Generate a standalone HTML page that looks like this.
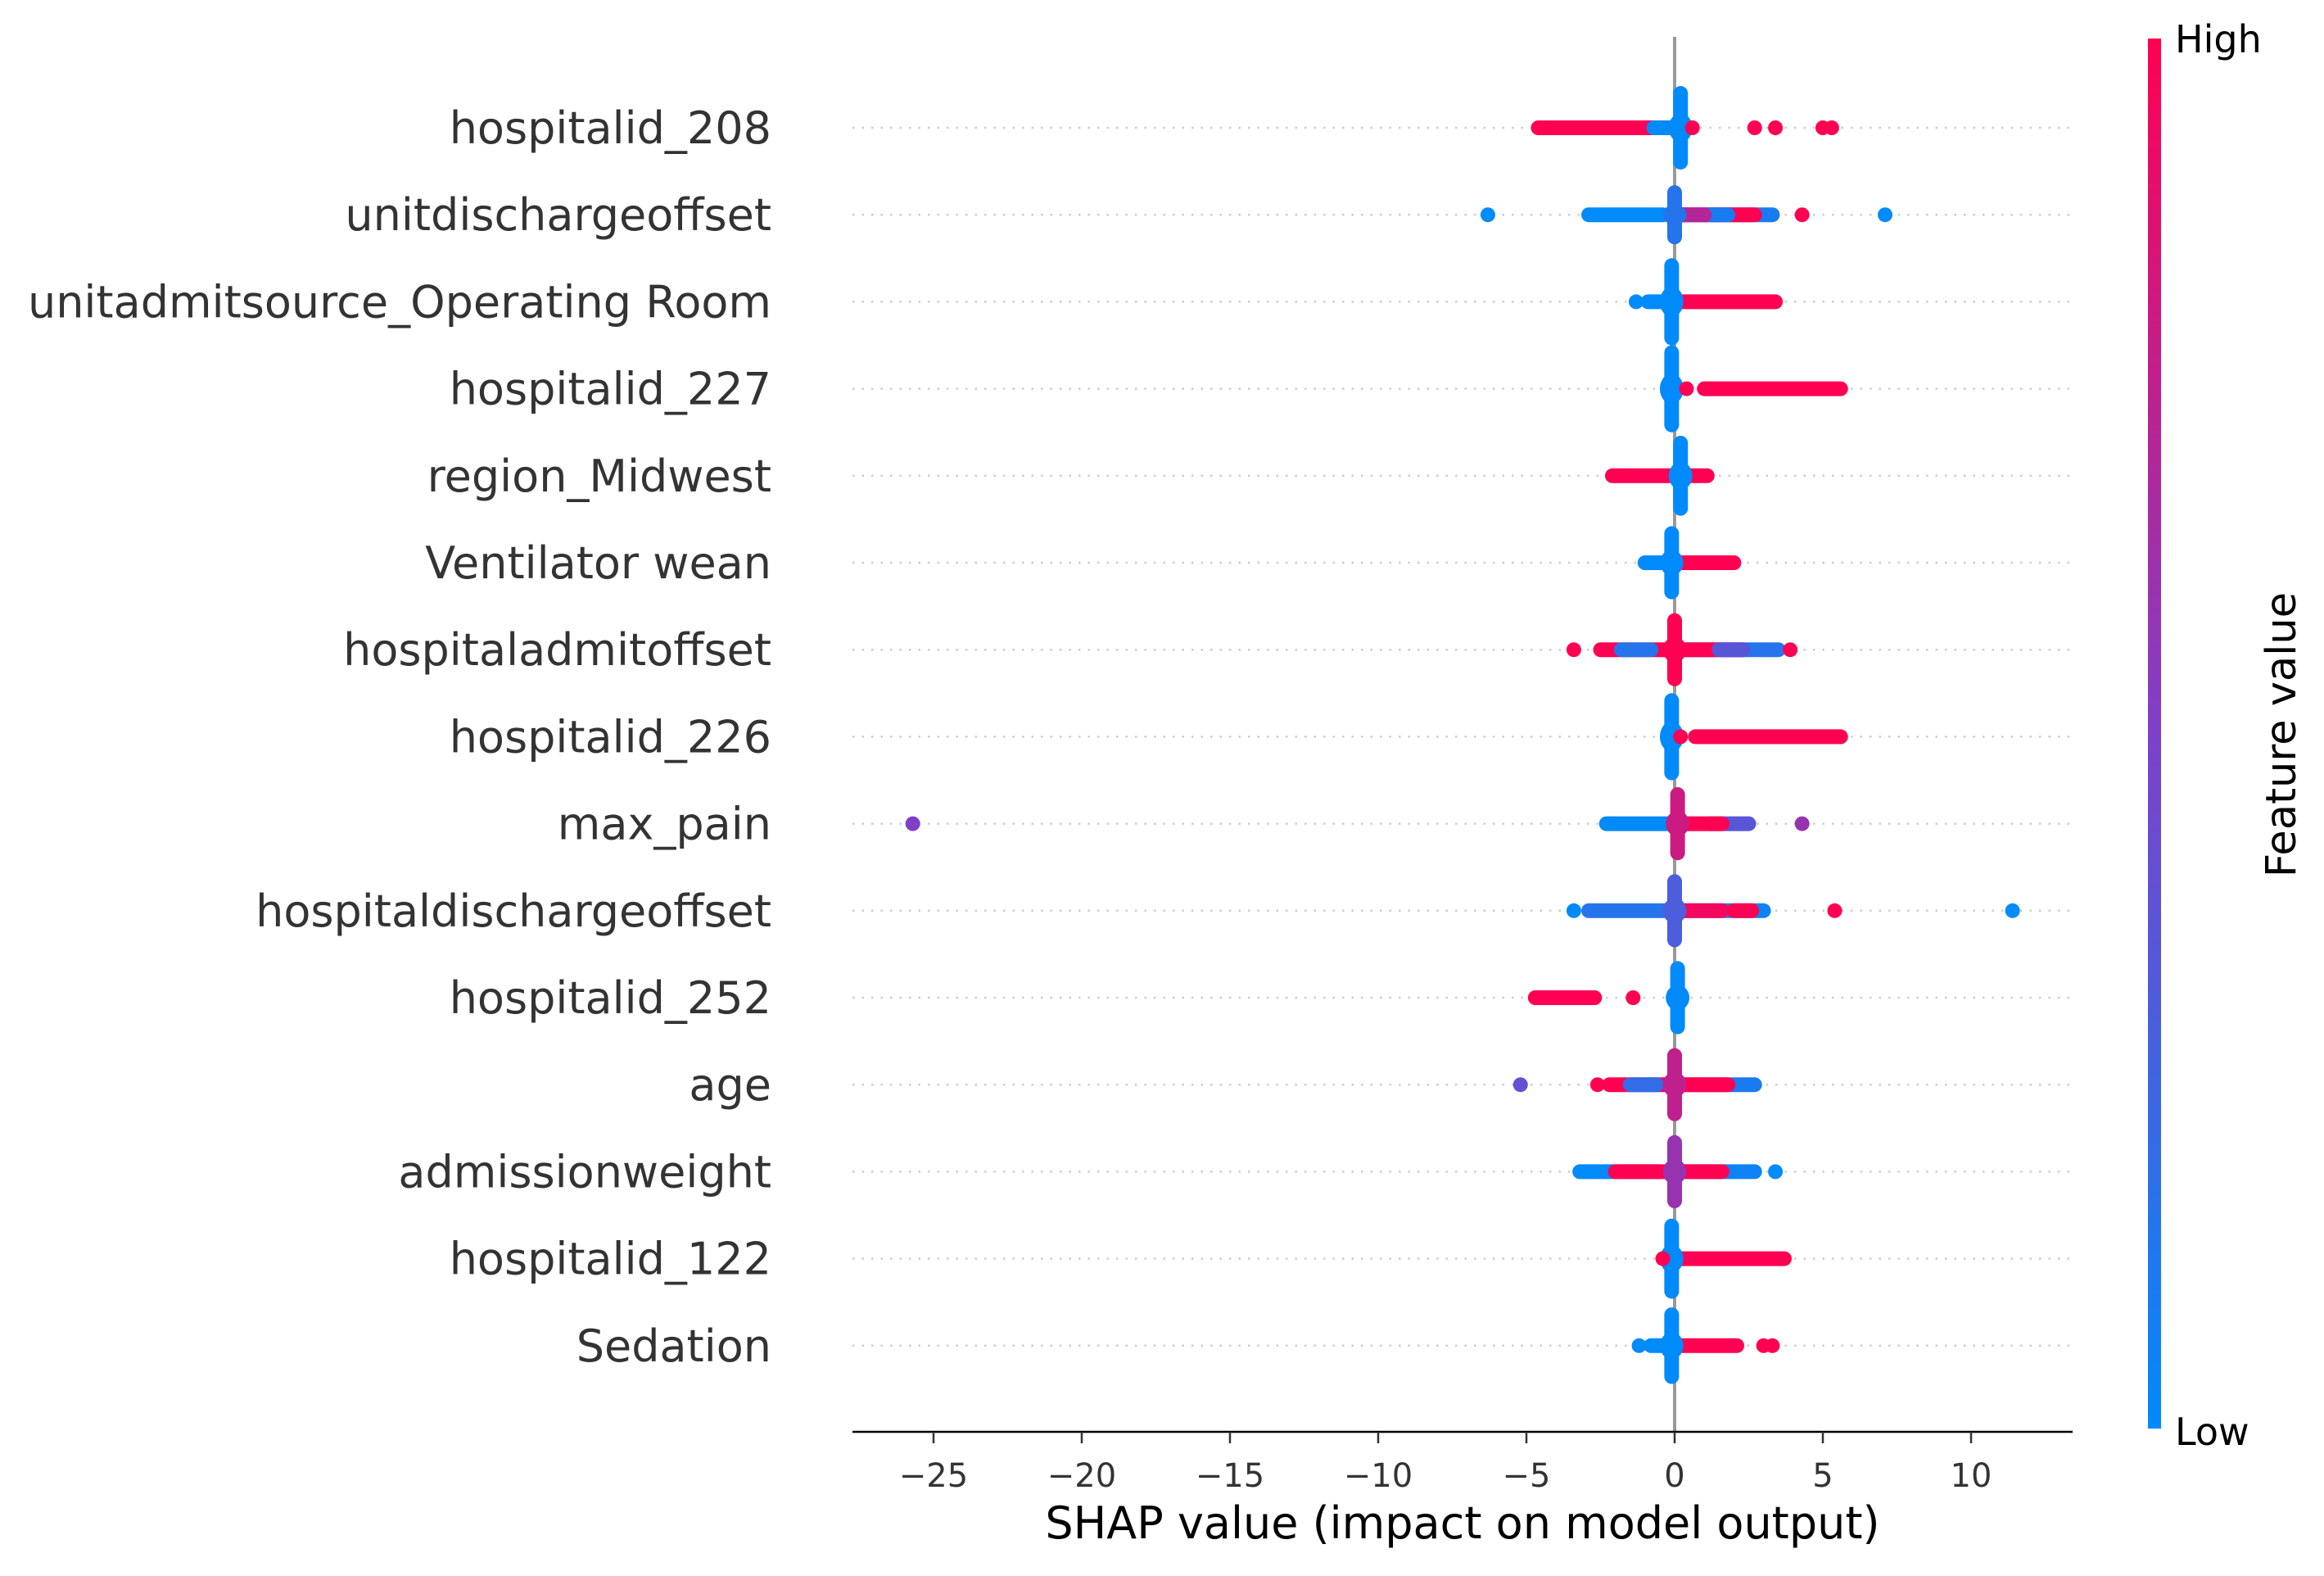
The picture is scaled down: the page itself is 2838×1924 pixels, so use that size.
<!DOCTYPE html>
<html><head><meta charset="utf-8"><style>
html,body{margin:0;padding:0;background:#fff}
svg text{font-family:"DejaVu Sans","Liberation Sans",sans-serif}
</style></head><body>
<svg id="chart" width="2838" height="1919" viewBox="0 0 2838 1919" xmlns="http://www.w3.org/2000/svg">
<defs><linearGradient id="cb" x1="0" y1="1" x2="0" y2="0">
<stop offset="0" stop-color="rgb(0,138,250)"/><stop offset="0.5" stop-color="rgb(126,64,200)"/><stop offset="1" stop-color="rgb(255,0,82)"/>
</linearGradient></defs>
<g id="grid"></g><g id="marks"></g><g id="axes"></g>
</svg>
<script>
const features = ["hospitalid_208","unitdischargeoffset","unitadmitsource_Operating Room","hospitalid_227","region_Midwest","Ventilator wean","hospitaladmitoffset","hospitalid_226","max_pain","hospitaldischargeoffset","hospitalid_252","age","admissionweight","hospitalid_122","Sedation"];
const xTicks = [-25,-20,-15,-10,-5,0,5,10];
// segments: [lo, hi, colorValue(0=low,1=high)] per feature
const segments = [
 [[-4.6,0.5,1],[-0.7,0.3,0]],
 [[-2.9,-0.4,0],[0,3.3,0.1],[0,2.7,1],[1.2,1.8,0.1],[0,1.0,0.7]],
 [[-0.9,0,0],[0,3.4,1]],
 [[1.0,5.6,1]],
 [[-2.1,0,1],[0.2,1.1,1]],
 [[-1.0,0,0],[0,2.0,1]],
 [[-2.5,-0.3,1],[-1.8,-0.8,0.15],[0,3.5,0.15],[0,2.3,1],[1.5,2.3,0.35]],
 [[0.7,5.6,1]],
 [[-2.3,0,0],[1.2,2.5,0.35],[0,1.6,1]],
 [[-2.9,0,0.15],[0,3.0,0.05],[0,1.6,0.95],[2.0,2.6,1]],
 [[-4.7,-2.7,1]],
 [[-2.2,0,1],[-1.5,-0.6,0.2],[0,2.7,0.1],[0,1.8,1]],
 [[-3.2,-0.5,0],[-2.0,0,1],[0,2.7,0.05],[0,1.6,1]],
 [[0,3.7,1]],
 [[-0.8,0,0],[0,2.1,1]]
];
// outliers: [value, colorValue]
const outliers = [
 [[2.7,1],[3.4,1],[5.0,1],[5.3,1],[0.6,1]],
 [[-6.3,0],[4.3,1],[7.1,0]],
 [[-1.3,0]],
 [[0.4,1]],
 [],
 [],
 [[-3.4,1],[3.9,1]],
 [[0.2,1]],
 [[-25.7,0.5],[4.3,0.6]],
 [[-3.4,0],[5.4,1],[11.4,0]],
 [[-1.4,1]],
 [[-5.2,0.4],[-2.6,1]],
 [[3.4,0]],
 [[-0.4,1]],
 [[-1.2,0],[3.0,1],[3.3,1]]
];
// central piles: [value, spread (fraction of row), colorValue]
const piles = [
 [0.2,0.48,0],[0,0.34,0.15],[-0.1,0.5,0],[-0.1,0.5,0],[0.2,0.46,0],
 [-0.1,0.42,0],[0,0.42,1],[-0.1,0.5,0],[0.1,0.42,0.8],[0,0.42,0.3],
 [0.1,0.42,0],[0,0.42,0.75],[0,0.42,0.6],[-0.1,0.46,0],[-0.1,0.44,0]
];
const NS="http://www.w3.org/2000/svg";
const X0=2045, PXU=36.2, Y0=156, DY=106.2, R=9;
const xs=v=>X0+v*PXU, ys=i=>Y0+i*DY;
function col(t){const a=[0,138,250],m=[126,64,200],b=[255,0,82];let c;
 if(t<0.5){const k=t/0.5;c=a.map((v,j)=>v+(m[j]-v)*k)}else{const k=(t-0.5)/0.5;c=m.map((v,j)=>v+(b[j]-v)*k)}
 return `rgb(${c.map(Math.round).join(',')})`}
function mk(tag,attrs,parent){const e=document.createElementNS(NS,tag);for(const k in attrs)e.setAttribute(k,attrs[k]);parent.appendChild(e);return e}
const grid=document.getElementById('grid'),marks=document.getElementById('marks'),axes=document.getElementById('axes');
features.forEach((f,i)=>{
 const y=ys(i);
 const gl=mk('line',{x1:1041,x2:2531,y1:y,y2:y,stroke:'#ccc','stroke-width':2.5,'stroke-dasharray':'2.5 9'},grid);
 
 
 const lb=mk('text',{x:942,y:y+19,'text-anchor':'end','font-size':54,fill:'#333'},axes);
 lb.textContent=f;
 
 
});
const zl=mk('line',{x1:X0,x2:X0,y1:45,y2:1748,stroke:'#999','stroke-width':4},grid);


features.forEach((f,i)=>{
 const y=ys(i);
 const g=mk('g',{},marks);
 
 
 segments[i].forEach(s=>{
  const l=mk('line',{x1:xs(s[0]),x2:xs(s[1]),y1:y,y2:y,stroke:col(s[2]),'stroke-width':2*R,'stroke-linecap':'round'},g);
  
  
 });
 const p=piles[i];
 const h=p[1]*DY;
 const pl=mk('line',{x1:xs(p[0]),x2:xs(p[0]),y1:y-h+R,y2:y+h-R,stroke:col(p[2]),'stroke-width':2*R,'stroke-linecap':'round'},g);
 
 
 const pe=mk('ellipse',{cx:xs(p[0]),cy:y,rx:R*1.6,ry:h*0.35,fill:col(p[2])},g);
 
 
 outliers[i].forEach(o=>{
  const c=mk('circle',{cx:xs(o[0]),cy:y,r:R,fill:col(o[1])},g);
  
  
 });
});
const ax=mk('line',{x1:1041,x2:2531,y1:1748,y2:1748,stroke:'#000','stroke-width':2.5},axes);


xTicks.forEach(t=>{
 const tk=mk('line',{x1:xs(t),x2:xs(t),y1:1748,y2:1762,stroke:'#333','stroke-width':2.5},axes);
 
 
 const tl=mk('text',{x:xs(t),y:1815,'text-anchor':'middle','font-size':40,fill:'#333'},axes);
 tl.textContent=(t<0?'\u2212':'')+Math.abs(t);
 
 
});
</script>
<svg style="position:absolute;left:0;top:0" width="2838" height="1919">
<text x="1786" y="1878" text-anchor="middle" font-size="54" fill="#000" font-family="DejaVu Sans, Liberation Sans, sans-serif">SHAP value (impact on model output)</text>
<rect x="2623" y="47" width="16" height="1697" fill="url(#cb)"/>
<text x="2656" y="64" font-size="46" fill="#000" font-family="DejaVu Sans, Liberation Sans, sans-serif">High</text>
<text x="2656" y="1764" font-size="46" fill="#000" font-family="DejaVu Sans, Liberation Sans, sans-serif">Low</text>
<text transform="translate(2803,897) rotate(-90)" text-anchor="middle" font-size="51" fill="#000" font-family="DejaVu Sans, Liberation Sans, sans-serif">Feature value</text>
</svg>
</body></html>
